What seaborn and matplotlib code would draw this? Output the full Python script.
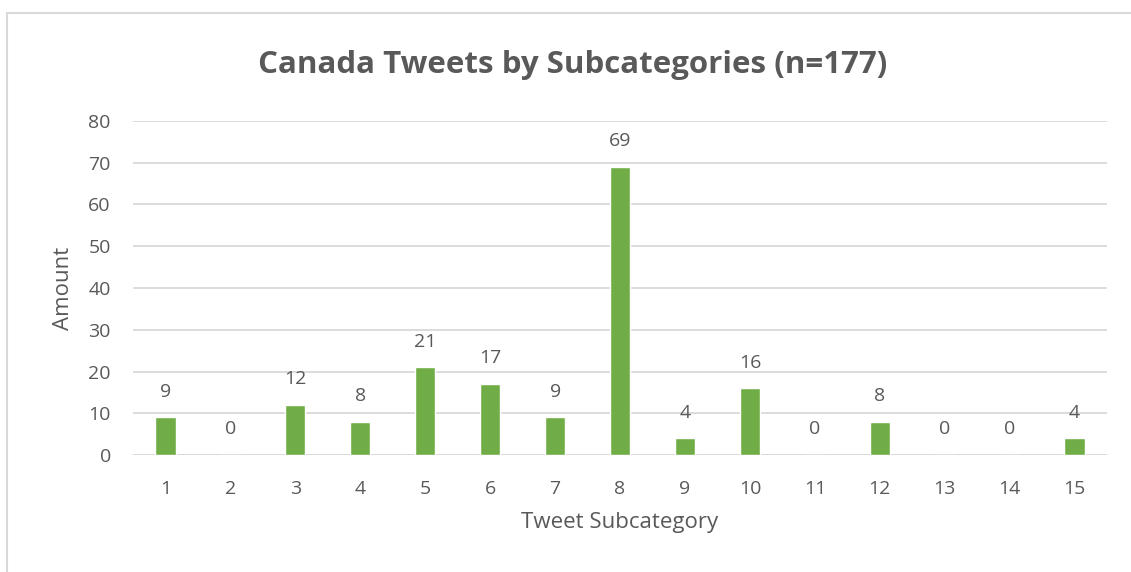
import pandas as pd
import matplotlib.pyplot as plt
import seaborn as sns
from matplotlib.patches import Rectangle

# Datos
subcategories = [str(i) for i in range(1, 16)]
amounts = [9, 0, 12, 8, 21, 17, 9, 69, 4, 16, 0, 8, 0, 0, 4]
y_ticks = [0, 10, 20, 30, 40, 50, 60, 70, 80]

TEXT = '#595959'
GRID = '#d9d9d9'
GREEN = '#70ad47'


def main():
    sns.set_style("white")
    plt.rcParams['font.family'] = ['Open Sans', 'DejaVu Sans']

    df = pd.DataFrame({'subcategory': subcategories, 'amount': amounts})

    fig = plt.figure(figsize=(11.31, 5.72), dpi=100)
    ax = fig.add_axes([0.1176, 0.2045, 0.8612, 0.584])

    sns.barplot(x='subcategory', y='amount', data=df, color=GREEN,
                width=0.31, saturation=1, ax=ax, zorder=3)

    # Etiquetas de datos
    for i, v in enumerate(amounts):
        ax.text(i, v + 4, str(v), ha='center', va='bottom',
                fontsize=14, color=TEXT)

    ax.set_xlim(-0.5, len(subcategories) - 0.5)
    ax.set_ylim(0, 80)
    ax.set_yticks(y_ticks)
    ax.yaxis.grid(True, color=GRID, linewidth=1.3, zorder=0)
    ax.set_axisbelow(True)
    for side in ['top', 'right', 'left', 'bottom']:
        ax.spines[side].set_visible(False)
    ax.axhline(0, color=GRID, linewidth=1.3, zorder=2)
    ax.tick_params(axis='both', length=0, labelsize=14, labelcolor=TEXT)
    ax.tick_params(axis='x', pad=18)
    ax.tick_params(axis='y', pad=16)

    ax.set_xlabel('Tweet Subcategory', fontsize=16, color=TEXT, labelpad=10)
    ax.set_ylabel('Amount', fontsize=16, color=TEXT, labelpad=10)

    fig.text(0.506, 0.886, 'Canada Tweets by Subcategories (n=177)',
             ha='center', va='center', fontsize=22.5, fontweight='bold',
             color=TEXT)

    # Borde del gráfico
    fig.patches.append(Rectangle((7 / 1131, -0.1), 1.2, 1 - 13 / 572 + 0.1,
                                 transform=fig.transFigure, fill=False,
                                 edgecolor=GRID, linewidth=1.5))

    plt.savefig('out.png', dpi=100)
    plt.close()


if __name__ == "__main__":
    main()
